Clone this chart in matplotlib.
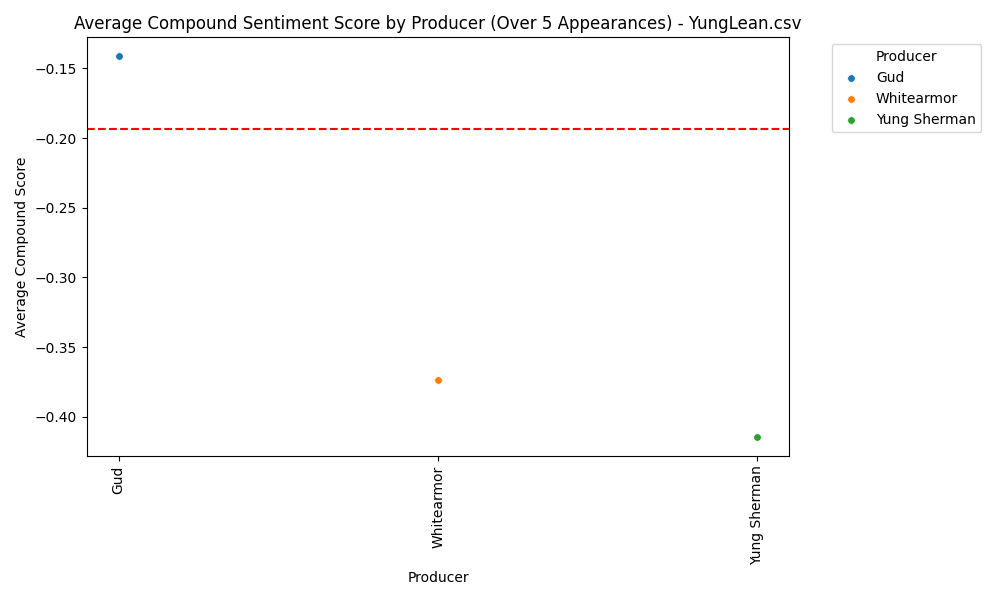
import matplotlib.pyplot as plt

# ─── Data ─────────────────────────────────────────────
producers = ['Gud', 'Whitearmor', 'Yung Sherman']
avg_compound = [-0.1414, -0.3734, -0.4144]
overall_mean = -0.1938
colors = ['#1f77b4', '#ff7f0e', '#2ca02c']

fig, ax = plt.subplots(figsize=(10, 6), dpi=100)

for name, val, c in zip(producers, avg_compound, colors):
    ax.scatter([name], [val], color=c, s=30, edgecolors='white', linewidths=0.5, label=name, zorder=3)

ax.axhline(y=overall_mean, color='red', linestyle='--')

ax.set_title('Average Compound Sentiment Score by Producer (Over 5 Appearances) - YungLean.csv')
ax.set_xlabel('Producer')
ax.set_ylabel('Average Compound Score')
plt.xticks(rotation=90)
ax.legend(title='Producer', bbox_to_anchor=(1.05, 1), loc='upper left')

plt.tight_layout()
plt.savefig('out.png')
